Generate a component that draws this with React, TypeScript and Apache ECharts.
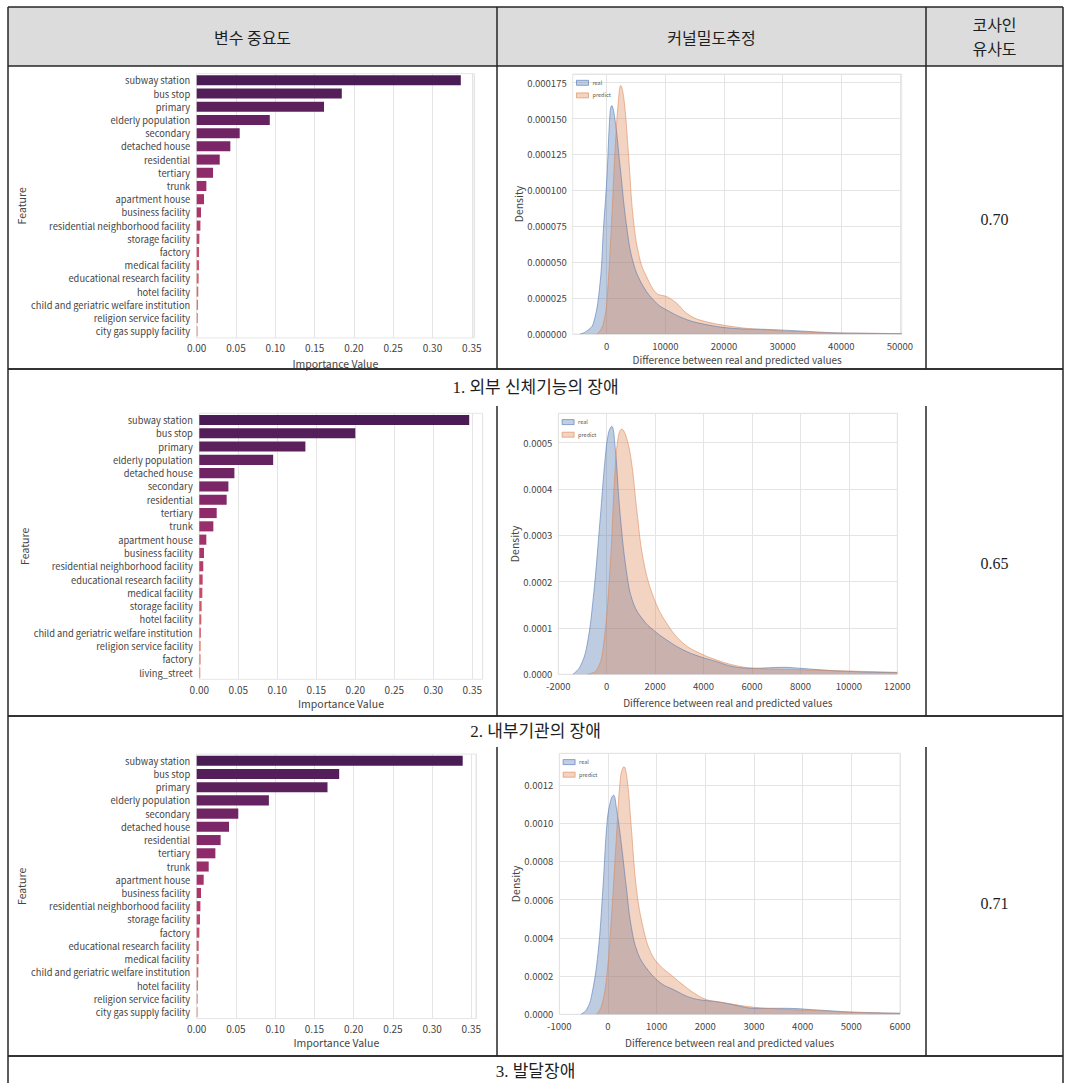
import React, { useEffect, useRef } from "react";
import * as echarts from "echarts";

// ---- Feature importance (three models) ----
const FEATURES_1 = [
  "subway station", "bus stop", "primary", "elderly population", "secondary",
  "detached house", "residential", "tertiary", "trunk", "apartment house",
  "business facility", "residential neighborhood facility", "storage facility",
  "factory", "medical facility", "educational research facility", "hotel facility",
  "child and geriatric welfare institution", "religion service facility",
  "city gas supply facility",
];
const IMPORTANCE_1 = [
  0.336, 0.1846, 0.162, 0.093, 0.0547, 0.0428, 0.0293, 0.0208, 0.0123, 0.0093,
  0.0055, 0.0047, 0.0034, 0.003, 0.003, 0.0025, 0.002, 0.0017, 0.0015, 0.0012,
];

const FEATURES_2 = [
  "subway station", "bus stop", "primary", "elderly population", "detached house",
  "secondary", "residential", "tertiary", "trunk", "apartment house",
  "business facility", "residential neighborhood facility",
  "educational research facility", "medical facility", "storage facility",
  "hotel facility", "child and geriatric welfare institution",
  "religion service facility", "factory", "living_street",
];
const IMPORTANCE_2 = [
  0.346, 0.2, 0.136, 0.0947, 0.045, 0.0373, 0.0351, 0.0223, 0.018, 0.009,
  0.006, 0.0051, 0.0043, 0.0039, 0.003, 0.0026, 0.0021, 0.0017, 0.0017, 0.0013,
];

const FEATURES_3 = [
  "subway station", "bus stop", "primary", "elderly population", "secondary",
  "detached house", "residential", "tertiary", "trunk", "apartment house",
  "business facility", "residential neighborhood facility", "storage facility",
  "factory", "educational research facility", "medical facility",
  "child and geriatric welfare institution", "hotel facility",
  "religion service facility", "city gas supply facility",
];
const IMPORTANCE_3 = [
  0.339, 0.1816, 0.1667, 0.092, 0.053, 0.0412, 0.0305, 0.0238, 0.0153, 0.0089,
  0.0055, 0.0047, 0.0042, 0.0034, 0.0025, 0.0025, 0.0021, 0.0017, 0.0013, 0.0012,
];

// ---- Kernel density of (real - predicted) : [x, density] ----
const KDE1_REAL = [
  [-4550, 0], [-3400, 0.000002], [-2270, 0.0000074], [-1140, 0.0000353],
  [-570, 0.0000724], [0, 0.000107], [570, 0.000154], [850, 0.000159],
  [1420, 0.000149], [2270, 0.000117], [3400, 0.0000748], [4550, 0.0000492],
  [6250, 0.000033], [8500, 0.0000214], [10230, 0.0000167], [13070, 0.0000109],
  [15900, 0.0000074], [21600, 0.0000039], [27300, 0.0000032], [33000, 0.0000021],
  [38600, 0.0000009], [44000, 0.0000005], [50300, 0.0000002],
];
const KDE1_PRED = [
  [-1700, 0], [-1100, 0.0000025], [-570, 0.0000074], [0, 0.0000214],
  [850, 0.0000794], [1420, 0.000128], [2000, 0.000163], [2390, 0.000173],
  [2950, 0.000163], [3700, 0.000126], [4550, 0.0000794], [5680, 0.0000515],
  [6800, 0.0000399], [8500, 0.0000283], [10230, 0.000026], [11930, 0.0000214],
  [13640, 0.0000144], [15900, 0.0000097], [21600, 0.0000051], [27300, 0.0000028],
  [33000, 0.0000016], [38600, 0.0000007], [44000, 0.0000005], [50300, 0.0000003],
];

const KDE2_REAL = [
  [-1400, 0], [-1100, 0.0000165], [-825, 0.0000597], [-550, 0.000168],
  [-275, 0.000333], [-70, 0.000463], [70, 0.00052], [206, 0.000535],
  [345, 0.000491], [550, 0.000347], [825, 0.000218], [1100, 0.000153],
  [1510, 0.000117], [1920, 0.0000957], [2475, 0.0000741], [3160, 0.0000525],
  [3850, 0.0000381], [4540, 0.0000273], [5220, 0.0000165], [6050, 0.000013],
  [7290, 0.0000151], [7970, 0.000013], [9350, 0.0000079], [10720, 0.000005],
  [12000, 0.0000036],
];
const KDE2_PRED = [
  [-800, 0], [-410, 0.0000094], [-140, 0.0000597], [140, 0.000232],
  [345, 0.000441], [480, 0.000513], [620, 0.000529], [825, 0.000509],
  [1030, 0.000455], [1240, 0.000355], [1510, 0.000247], [1920, 0.000168],
  [2475, 0.00011], [3160, 0.0000669], [3850, 0.0000453], [4540, 0.0000309],
  [5220, 0.0000201], [6050, 0.000013], [7290, 0.0000108], [9350, 0.0000079],
  [12000, 0.0000043],
];

const KDE3_REAL = [
  [-560, 0], [-444, 0.0000227], [-341, 0.0000924], [-205, 0.000319],
  [-102, 0.000668], [-14, 0.001017], [68, 0.00113], [116, 0.001147],
  [170, 0.001086], [273, 0.000894], [375, 0.000668], [478, 0.000459],
  [614, 0.000319], [819, 0.000232], [1092, 0.000162], [1365, 0.000127],
  [1638, 0.0000924], [1911, 0.000075], [2253, 0.0000663], [2594, 0.0000488],
  [3003, 0.0000314], [3618, 0.0000314], [4300, 0.0000227], [4983, 0.0000122],
  [6000, 0.0000052],
];
const KDE3_PRED = [
  [-239, 0], [-137, 0.00004], [-34, 0.00018], [68, 0.000493], [170, 0.000912],
  [259, 0.001243], [328, 0.001296], [396, 0.001226], [478, 0.000982],
  [580, 0.000668], [717, 0.000459], [887, 0.000319], [1092, 0.000249],
  [1297, 0.000206], [1502, 0.000162], [1775, 0.00011], [2048, 0.000075],
  [2457, 0.0000575], [3003, 0.0000366], [3618, 0.0000262], [4300, 0.0000192],
  [4983, 0.0000105], [6000, 0.0000052],
];

const COSINE = ["0.70", "0.65", "0.71"];
const CAPTIONS = ["1. 외부 신체기능의 장애", "2. 내부기관의 장애", "3. 발달장애"];
const HEADERS = ["변수 중요도", "커널밀도추정"];

const KDE1_TICKS = [0, 10000, 20000, 30000, 40000, 50000];

// ---- styling ----
const FONT = "'Noto Sans CJK KR', 'Noto Sans', sans-serif";
const SERIF = "'Liberation Serif', 'Noto Sans CJK KR', serif";
const TEXT = "#454545";
const GRIDLINE = "#e4e4e4";
const REAL_COLOR = "#4c72b0";
const PRED_COLOR = "#dd8452";
const RAMP = ["#4a1c55", "#672262", "#88296a", "#a8336a", "#c44969", "#d9676b", "#e88d76"];

function ramp(t: number): string {
  const seg = (RAMP.length - 1) * t;
  const i = Math.min(Math.floor(seg), RAMP.length - 2);
  const f = seg - i;
  const a = RAMP[i], b = RAMP[i + 1];
  const ch = (s: string, k: number) => parseInt(s.slice(1 + 2 * k, 3 + 2 * k), 16);
  const c = [0, 1, 2].map((k) => Math.round(ch(a, k) + (ch(b, k) - ch(a, k)) * f));
  return `rgb(${c[0]},${c[1]},${c[2]})`;
}

type Box = { left: number; top: number; width: number; height: number };

const BAR_GRIDS: Box[] = [
  { left: 196.7, top: 73.7, width: 277.3, height: 264.2 },
  { left: 199.3, top: 413.3, width: 283.4, height: 266 },
  { left: 196.7, top: 754.1, width: 279.3, height: 264.5 },
];
const KDE_GRIDS: Box[] = [
  { left: 572.7, top: 74, width: 329, height: 260 },
  { left: 558.3, top: 413.3, width: 339, height: 261 },
  { left: 559.3, top: 753.3, width: 340.7, height: 261 },
];

export default function App() {
  const ref = useRef<HTMLDivElement>(null);

  useEffect(() => {
    if (!ref.current) return;
    const chart = echarts.init(ref.current, null, { renderer: "svg" });

    const barSets = [
      { f: FEATURES_1, v: IMPORTANCE_1, featGap: 144, nameGap: 20 },
      { f: FEATURES_2, v: IMPORTANCE_2, featGap: 147, nameGap: 19 },
      { f: FEATURES_3, v: IMPORTANCE_3, featGap: 145, nameGap: 19 },
    ];
    const kdeSets = [
      { real: KDE1_REAL, pred: KDE1_PRED, xmin: -5800, xmax: 50300, ymax: 0.000181, ydec: 6, yint: 0.000025, custom: KDE1_TICKS, xint: 10000, dGap: 42, tGap: 20 },
      { real: KDE2_REAL, pred: KDE2_PRED, xmin: -2000, xmax: 12000, ymax: 0.000563, ydec: 4, yint: 0.0001, custom: null, xint: 2000, dGap: 31, tGap: 23 },
      { real: KDE3_REAL, pred: KDE3_PRED, xmin: -1000, xmax: 6000, ymax: 0.001366, ydec: 4, yint: 0.0002, custom: null, xint: 1000, dGap: 32, tGap: 23 },
    ];

    const grid: any[] = [];
    const xAxis: any[] = [];
    const yAxis: any[] = [];
    const series: any[] = [];
    const legend: any[] = [];

    barSets.forEach((s, i) => {
      grid.push({ ...BAR_GRIDS[i], show: true, borderColor: "#e6e6e6", borderWidth: 1, containLabel: false });
      const maxV = Math.max(...s.v) * 1.05;
      xAxis.push({
        type: "value", gridIndex: i, min: 0, max: maxV, interval: 0.05,
        axisLine: { show: false }, axisTick: { show: false },
        splitLine: { show: true, lineStyle: { color: GRIDLINE, width: 1 } },
        axisLabel: { fontFamily: FONT, fontSize: 10, color: TEXT, margin: 5, formatter: (v: number) => v.toFixed(2), showMaxLabel: false },
        name: "Importance Value", nameLocation: "middle", nameGap: s.nameGap,
        nameTextStyle: { fontFamily: FONT, fontSize: 10.5, color: TEXT },
      });
      yAxis.push({
        type: "category", gridIndex: i, data: s.f, inverse: true,
        axisLine: { show: false }, axisTick: { show: false }, splitLine: { show: false },
        axisLabel: { fontFamily: FONT, fontSize: 9.3, color: TEXT, margin: 6.5, interval: 0 },
        name: "Feature", nameLocation: "middle", nameGap: s.featGap,
        nameTextStyle: { fontFamily: FONT, fontSize: 10.5, color: TEXT },
      });
      series.push({
        type: "bar", xAxisIndex: i, yAxisIndex: i, barCategoryGap: "24%",
        data: s.v.map((val, k) => ({ value: val, itemStyle: { color: ramp(k / (s.v.length - 1)) } })),
      });
    });

    kdeSets.forEach((s, j) => {
      const idx = 3 + j;
      const g = KDE_GRIDS[j];
      grid.push({ ...g, show: true, borderColor: "#e6e6e6", borderWidth: 1, containLabel: false });
      const xa: any = {
        type: "value", gridIndex: idx, min: s.xmin, max: s.xmax,
        axisLine: { show: false },
        splitLine: { show: true, lineStyle: { color: GRIDLINE, width: 1 } },
        axisTick: { show: false },
        axisLabel: { fontFamily: FONT, fontSize: 9.5, color: TEXT, margin: 7, formatter: (v: number) => String(v), showMinLabel: true, showMaxLabel: true },
        name: "Difference between real and predicted values", nameLocation: "middle", nameGap: s.tGap,
        nameTextStyle: { fontFamily: FONT, fontSize: 10, color: TEXT },
      };
      if (s.custom) {
        xa.axisTick.customValues = s.custom;
        xa.axisLabel.customValues = s.custom;
      } else {
        xa.interval = s.xint;
      }
      xAxis.push(xa);
      yAxis.push({
        type: "value", gridIndex: idx, min: 0, max: s.ymax, interval: s.yint,
        axisLine: { show: false }, axisTick: { show: false },
        splitLine: { show: true, lineStyle: { color: GRIDLINE, width: 1 } },
        axisLabel: { fontFamily: FONT, fontSize: 9.5, color: TEXT, margin: 6, formatter: (v: number) => v.toFixed(s.ydec), showMaxLabel: false },
        name: "Density", nameLocation: "middle", nameGap: s.dGap,
        nameTextStyle: { fontFamily: FONT, fontSize: 10.5, color: TEXT },
      });
      const mk = (name: string, data: number[][], color: string) => ({
        type: "line", name, xAxisIndex: idx, yAxisIndex: idx, data,
        smooth: 0.4, symbol: "none", showSymbol: false,
        lineStyle: { color, width: 1, opacity: 0.55 },
        itemStyle: { color },
        areaStyle: { color, opacity: 0.36 },
        z: 2,
      });
      series.push(mk("real", s.real, REAL_COLOR));
      series.push(mk("predict", s.pred, PRED_COLOR));
      legend.push({
        left: g.left + 3.5, top: g.top + 6, orient: "vertical", padding: 0, itemGap: 7,
        itemWidth: 12, itemHeight: 5, selectedMode: false,
        textStyle: { fontFamily: FONT, fontSize: 5.5, color: "#555", padding: [0, 0, 0, -1] },
        data: [
          { name: "real", icon: "rect", itemStyle: { color: "rgba(76,114,176,0.35)", borderColor: REAL_COLOR, borderWidth: 0.6 } },
          { name: "predict", icon: "rect", itemStyle: { color: "rgba(221,132,82,0.35)", borderColor: PRED_COLOR, borderWidth: 0.6 } },
        ],
      });
    });

    // ---- table frame ----
    const L = 8, R = 1063, TOP = 7, HB = 66, C1 = 497, C2 = 926;
    const rowBands = [[HB, 369], [406, 716], [747, 1056]];
    const captionBands = [[369, 406], [716, 747], [1056, 1083]];
    const stroke = { stroke: "#262626", lineWidth: 1.5 };
    const line = (x1: number, y1: number, x2: number, y2: number) => ({
      type: "line", shape: { x1, y1, x2, y2 }, style: stroke, silent: true, z: 10,
    });
    const graphic: any[] = [
      { type: "rect", shape: { x: L, y: TOP, width: R - L, height: HB - TOP }, style: { fill: "#dcdcdc" }, z: 0, silent: true },
      line(L, TOP, R, TOP),
      line(L, HB, R, HB),
      line(L, TOP, L, 1083),
      line(R, TOP, R, 1083),
      line(C1, TOP, C1, HB), line(C2, TOP, C2, HB),
    ];
    rowBands.forEach(([a, b]) => {
      graphic.push(line(C1, a, C1, b), line(C2, a, C2, b), line(L, b, R, b));
    });
    captionBands.forEach(([a]) => graphic.push(line(L, a, R, a)));
    const txt = (text: string, x: number, y: number, size: number, family: string) => ({
      type: "text", x, y, silent: true, z: 11,
      style: { text, fontFamily: family, fontSize: size, fill: "#1e1e1e", align: "center", verticalAlign: "middle" },
    });
    graphic.push(txt(HEADERS[0], (L + C1) / 2, 37, 16, FONT));
    graphic.push(txt(HEADERS[1], (C1 + C2) / 2, 37, 16, FONT));
    graphic.push(txt("코사인", (C2 + R) / 2, 24, 16, FONT));
    graphic.push(txt("유사도", (C2 + R) / 2, 48, 16, FONT));
    rowBands.forEach(([a, b], i) => {
      graphic.push(txt(COSINE[i], (C2 + R) / 2, (a + b) / 2 + 2, 16, SERIF));
    });
    captionBands.forEach(([a, b], i) => {
      const mid = i === 2 ? 1071 : (a + b) / 2;
      graphic.push(txt(CAPTIONS[i], (L + R) / 2, mid, 17, SERIF));
    });

    chart.setOption({
      animation: false,
      backgroundColor: "#ffffff",
      grid, xAxis, yAxis, series, legend, graphic,
    });
    return () => chart.dispose();
  }, []);

  return (
    <div
      ref={ref}
      style={{ position: "absolute", left: 0, top: 0, width: 1065, height: 1083, background: "#fff" }}
    />
  );
}
